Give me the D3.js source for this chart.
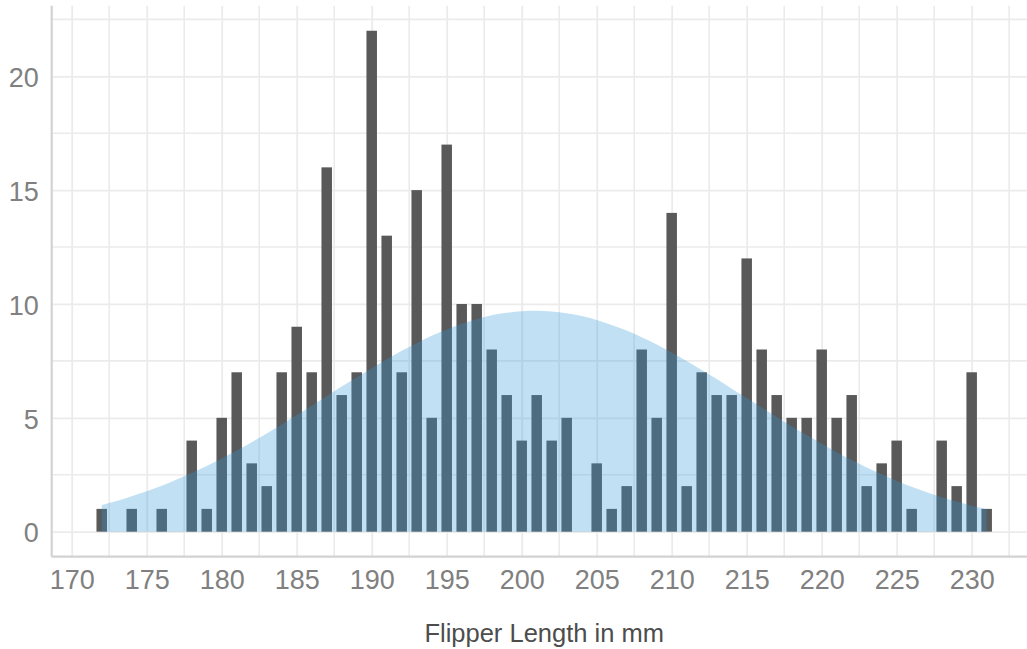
<!DOCTYPE html>
<html>
<head>
<meta charset="utf-8">
<script src="https://cdn.jsdelivr.net/npm/d3@7"></script>
<style>
  html, body { margin: 0; padding: 0; background: #ffffff; }
  svg { display: block; }
  text { font-family: "Liberation Sans", Arial, Helvetica, sans-serif; }
</style>
</head>
<body>
<svg id="chart" width="1027" height="649"></svg>
<script>
// Penguin flipper lengths (mm) and how many birds have each length
const lengths = [172, 174, 176, 178, 179, 180, 181, 182, 183, 184, 185, 186, 187, 188, 189,
  190, 191, 192, 193, 194, 195, 196, 197, 198, 199, 200, 201, 202, 203, 205, 206, 207, 208,
  209, 210, 211, 212, 213, 214, 215, 216, 217, 218, 219, 220, 221, 222, 223, 224, 225, 226,
  228, 229, 230, 231];
const counts = [1, 1, 1, 4, 1, 5, 7, 3, 2, 7, 9, 7, 16, 6, 7,
  22, 13, 7, 15, 5, 17, 10, 10, 8, 6, 4, 6, 4, 5, 3, 1, 2, 8,
  5, 14, 2, 7, 6, 6, 12, 8, 6, 5, 5, 8, 5, 6, 2, 3, 4, 1,
  4, 2, 7, 1];

// Smooth bell-shaped reference curve (expected count per mm)
const curveLengths = [172, 173, 174, 175, 176, 177, 178, 179, 180, 181, 182, 183, 184, 185,
  186, 187, 188, 189, 190, 191, 192, 193, 194, 195, 196, 197, 198, 199, 200, 201, 202, 203,
  204, 205, 206, 207, 208, 209, 210, 211, 212, 213, 214, 215, 216, 217, 218, 219, 220, 221,
  222, 223, 224, 225, 226, 227, 228, 229, 230, 231];
const curveCounts = [1.17, 1.35, 1.56, 1.78, 2.02, 2.29, 2.58, 2.88, 3.21, 3.56, 3.93, 4.31,
  4.71, 5.12, 5.53, 5.95, 6.37, 6.78, 7.18, 7.57, 7.94, 8.28, 8.60, 8.88, 9.13, 9.33, 9.50,
  9.61, 9.68, 9.70, 9.67, 9.59, 9.47, 9.30, 9.08, 8.83, 8.54, 8.22, 7.87, 7.49, 7.10, 6.70,
  6.28, 5.87, 5.45, 5.04, 4.63, 4.24, 3.86, 3.49, 3.15, 2.82, 2.52, 2.23, 1.97, 1.73, 1.51,
  1.32, 1.14, 0.98];

// Axis ticks and grid positions
const xTickLabels = [170, 175, 180, 185, 190, 195, 200, 205, 210, 215, 220, 225, 230];
const xMinorGrid = [172.5, 177.5, 182.5, 187.5, 192.5, 197.5, 202.5, 207.5, 212.5, 217.5,
  222.5, 227.5, 232.5];
const yTickLabels = [0, 5, 10, 15, 20];
const yMinorGrid = [2.5, 7.5, 12.5, 17.5, 22.5];

const barWidth = 0.7;

const svg = d3.select("#chart");
const panel = { left: 51.7, right: 1036.7, top: 5.7, bottom: 556.7 };

// Domains padded by 5% of the data span on each side
const xLo = d3.min(lengths) - barWidth / 2, xHi = d3.max(lengths) + barWidth / 2;
const xPad = (xHi - xLo) * 0.05;
const x = d3.scaleLinear()
  .domain([xLo - xPad, xHi + xPad])
  .range([panel.left, panel.right]);

const yHi = d3.max(counts);
const yPad = yHi * 0.05;
const y = d3.scaleLinear()
  .domain([0 - yPad, yHi + yPad])
  .range([panel.bottom, panel.top]);

const gridColor = "#ebebeb";
const grid = svg.append("g").attr("class", "grid");

// minor then major grid lines
grid.selectAll("line.xminor").data(xMinorGrid).join("line")
  .attr("x1", d => x(d)).attr("x2", d => x(d))
  .attr("y1", panel.top).attr("y2", panel.bottom)
  .attr("stroke", gridColor).attr("stroke-width", 1.6);
grid.selectAll("line.yminor").data(yMinorGrid).join("line")
  .attr("y1", d => y(d)).attr("y2", d => y(d))
  .attr("x1", panel.left).attr("x2", panel.right)
  .attr("stroke", gridColor).attr("stroke-width", 1.6);

const xGrid = svg.append("g")
  .attr("transform", `translate(0,${panel.bottom})`)
  .call(d3.axisBottom(x).tickValues(xTickLabels).tickSize(-(panel.bottom - panel.top)).tickFormat(""));
xGrid.select(".domain").remove();
xGrid.selectAll("line").attr("stroke", gridColor).attr("stroke-width", 1.8);

const yGrid = svg.append("g")
  .attr("transform", `translate(${panel.left},0)`)
  .call(d3.axisLeft(y).tickValues(yTickLabels).tickSize(-(panel.right - panel.left)).tickFormat(""));
yGrid.select(".domain").remove();
yGrid.selectAll("line").attr("stroke", gridColor).attr("stroke-width", 1.8);

// axis lines
svg.append("line")
  .attr("x1", panel.left).attr("x2", panel.left)
  .attr("y1", panel.top).attr("y2", panel.bottom)
  .attr("stroke", "#d2d2d2").attr("stroke-width", 2.2);
svg.append("line")
  .attr("x1", panel.left).attr("x2", panel.right)
  .attr("y1", panel.bottom).attr("y2", panel.bottom)
  .attr("stroke", "#d2d2d2").attr("stroke-width", 2.2);

// histogram bars
const bins = lengths.map((v, i) => ({ v, c: counts[i] }));
svg.append("g").selectAll("rect").data(bins).join("rect")
  .attr("x", d => x(d.v - barWidth / 2))
  .attr("width", d => x(d.v + barWidth / 2) - x(d.v - barWidth / 2))
  .attr("y", d => y(d.c))
  .attr("height", d => y(0) - y(d.c))
  .attr("fill", "#595959");

// translucent bell curve over the bars
const curve = curveLengths.map((v, i) => ({ v, c: curveCounts[i] }));
const area = d3.area()
  .x(d => x(d.v))
  .y0(y(0))
  .y1(d => y(d.c))
  .curve(d3.curveMonotoneX);
svg.append("path")
  .datum(curve)
  .attr("d", area)
  .attr("fill", "#3498db")
  .attr("fill-opacity", 0.3);

// tick labels
const xAxis = svg.append("g")
  .attr("transform", `translate(0,${panel.bottom})`)
  .call(d3.axisBottom(x).tickValues(xTickLabels).tickSize(0).tickPadding(13.4));
xAxis.select(".domain").remove();
xAxis.selectAll("text")
  .attr("font-size", 27).attr("fill", "#808080")
  .attr("font-family", "Liberation Sans, Arial, sans-serif");

const yAxis = svg.append("g")
  .attr("transform", `translate(${panel.left},0)`)
  .call(d3.axisLeft(y).tickValues(yTickLabels).tickSize(0).tickPadding(13));
yAxis.select(".domain").remove();
yAxis.selectAll("text")
  .attr("dy", "0.38em")
  .attr("font-size", 27).attr("fill", "#808080")
  .attr("font-family", "Liberation Sans, Arial, sans-serif");

// x-axis title
svg.append("text")
  .attr("x", (panel.left + panel.right) / 2)
  .attr("y", 641.7)
  .attr("text-anchor", "middle")
  .attr("font-size", 25.5)
  .attr("fill", "#4d4d4d")
  .text("Flipper Length in mm");
</script>
</body>
</html>
